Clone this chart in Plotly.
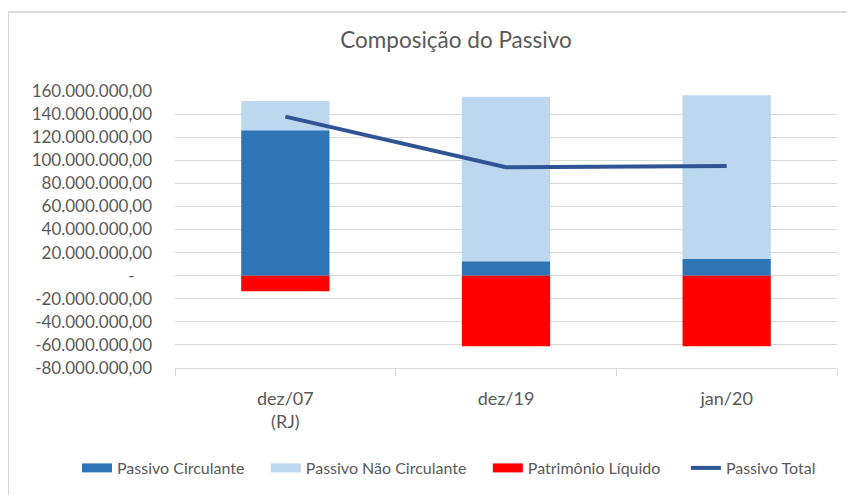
import plotly.graph_objects as go

categories = ["dez/07<br>(RJ)", "dez/19", "jan/20"]
passivo_circulante = [126.0e6, 12.4e6, 14.4e6]
passivo_nao_circulante = [25.4e6, 142.7e6, 141.9e6]
patrimonio_liquido = [-13.6e6, -61.2e6, -61.2e6]
passivo_total = [137.8e6, 93.9e6, 95.1e6]

tick_vals = [v * 1e6 for v in range(-80, 161, 20)]


def fmt(v):
    if v == 0:
        return "-\u00a0\u00a0\u00a0\u00a0"
    s = f"{abs(int(v)):,}".replace(",", ".") + ",00"
    return ("-" if v < 0 else "") + s


tick_text = [fmt(v) for v in tick_vals]

FONT = "Lato, 'Open Sans', sans-serif"
GREY = "#595959"
GRID = "#d9d9d9"
C_PC, C_PNC, C_PL, C_PT = "#2E75B6", "#BDD7EE", "#FF0000", "#2F5597"

fig = go.Figure()
fig.add_trace(go.Bar(name="Passivo Circulante", x=categories, y=passivo_circulante,
                     marker=dict(color=C_PC, line=dict(width=0)), showlegend=False))
fig.add_trace(go.Bar(name="Passivo Não Circulante", x=categories, y=passivo_nao_circulante,
                     marker=dict(color=C_PNC, line=dict(width=0)), showlegend=False))
fig.add_trace(go.Bar(name="Patrimônio Líquido", x=categories, y=patrimonio_liquido,
                     marker=dict(color=C_PL, line=dict(width=0)), showlegend=False))
fig.add_trace(go.Scatter(name="Passivo Total", x=categories, y=passivo_total, mode="lines",
                         line=dict(color=C_PT, width=4), showlegend=False))

# legend-only entries (wide swatches like the original); trailing nbsp widen the gaps
NB = "\u00a0"
for name, pad, col, w in [("Passivo Circulante", 4, C_PC, 9),
                          ("Passivo Não Circulante", 4, C_PNC, 9),
                          ("Patrimônio Líquido", 5, C_PL, 9),
                          ("Passivo Total", 0, C_PT, 4)]:
    fig.add_trace(go.Scatter(name=name + NB * pad, x=[None], y=[None], mode="lines",
                             line=dict(color=col, width=w), showlegend=True))

OFF = 8  # page body margin
W, H = 847, 487
L, T = 175 - OFF, 91 - OFF
pw, ph = 662, 277
R, B = W - L - pw, H - T - ph


def px_x(p):
    return (p - OFF - L) / pw


def px_y(p):
    return (T + ph - (p - OFF)) / ph


fig.update_layout(
    width=W, height=H,
    margin=dict(l=L, r=R, t=T, b=B, pad=0, autoexpand=False),
    paper_bgcolor="white", plot_bgcolor="white",
    barmode="relative", bargap=0.6,
    font=dict(family=FONT, color=GREY),
    title=dict(text="Composição do Passivo", x=(456 - OFF) / W, xanchor="center",
               y=1 - (40 - OFF) / H, yanchor="middle", font=dict(size=22.5, color=GREY, family=FONT)),
    showlegend=True,
    legend=dict(orientation="h", x=px_x(77), xanchor="left", y=px_y(468), yanchor="middle",
                font=dict(size=16, color=GREY, family=FONT), traceorder="normal",
                itemwidth=30, bgcolor="rgba(0,0,0,0)"),
    xaxis=dict(showgrid=False, showline=True, linecolor=GRID, linewidth=1,
               ticks="outside", tickson="boundaries", ticklen=7, tickcolor=GRID,
               tickfont=dict(size=18, color=GREY, family=FONT), ticklabelstandoff=14),
    yaxis=dict(range=[-80e6, 160e6], tickvals=tick_vals, ticktext=tick_text,
               showgrid=True, gridcolor=GRID, gridwidth=1, zeroline=False, showline=False,
               tickfont=dict(size=17, color=GREY, family=FONT), ticklabelstandoff=22),
    shapes=[
        dict(type="line", xref="paper", yref="paper", x0=px_x(8), x1=px_x(8),
             y0=px_y(12), y1=px_y(520), line=dict(color=GRID, width=2)),
        dict(type="line", xref="paper", yref="paper", x0=px_x(8), x1=px_x(880),
             y0=px_y(12), y1=px_y(12), line=dict(color=GRID, width=2)),
    ],
)

fig.write_html("out.html")
